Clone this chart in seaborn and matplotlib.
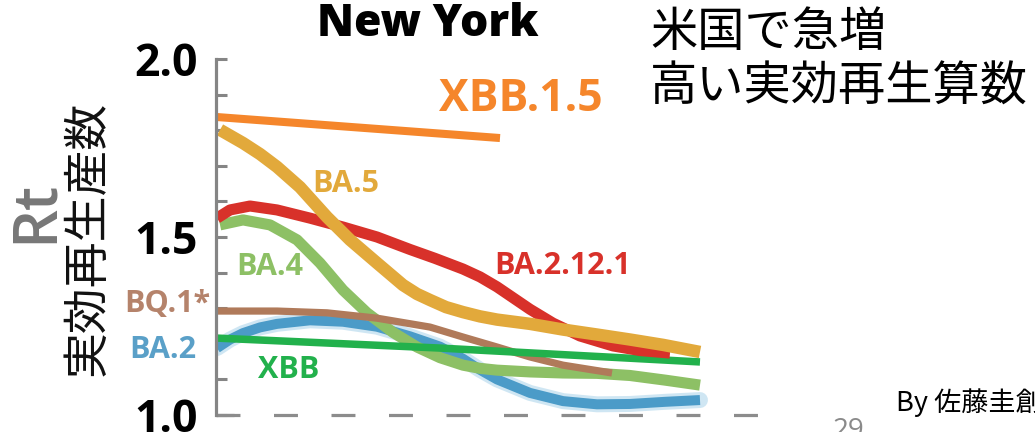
import matplotlib
matplotlib.use("Agg")
import matplotlib.pyplot as plt
import seaborn as sns

# Effective reproduction number (Rt) by variant, New York
xbb15_x = [0.1, 28.4]
xbb15_y = [1.837, 1.778]

ba5_x = [0.4, 2.7, 4.4, 6.1, 8.4, 11.1, 13.4, 16.1, 18.7, 20.1, 21.4, 23.0, 24.7, 26.4, 28.1, 31.4, 34.7, 38.1, 41.4, 44.7, 48.4]
ba5_y = [1.801, 1.764, 1.733, 1.697, 1.640, 1.556, 1.492, 1.427, 1.365, 1.340, 1.323, 1.303, 1.289, 1.277, 1.268, 1.256, 1.240, 1.226, 1.212, 1.197, 1.177]

ba2121_x = [0.1, 1.4, 3.4, 6.1, 9.4, 12.7, 16.1, 19.4, 21.9, 24.7, 26.4, 28.1, 31.4, 33.7, 36.4, 39.7, 42.4, 45.4]
ba2121_y = [1.553, 1.576, 1.587, 1.576, 1.553, 1.528, 1.500, 1.465, 1.440, 1.410, 1.388, 1.360, 1.297, 1.258, 1.222, 1.194, 1.181, 1.174]

ba4_x = [0.4, 2.7, 5.4, 8.1, 10.4, 12.7, 15.1, 17.7, 20.1, 22.4, 24.7, 26.4, 28.1, 31.4, 34.7, 38.1, 41.4, 44.9, 48.4]
ba4_y = [1.534, 1.548, 1.534, 1.492, 1.427, 1.351, 1.287, 1.232, 1.191, 1.161, 1.140, 1.131, 1.126, 1.121, 1.118, 1.117, 1.111, 1.098, 1.084]

bq1_x = [0.1, 6.1, 11.1, 16.1, 21.4, 24.7, 28.1, 31.4, 34.7, 39.6]
bq1_y = [1.292, 1.292, 1.287, 1.272, 1.247, 1.219, 1.191, 1.163, 1.140, 1.118]

ba2_x = [0.1, 1.4, 2.7, 4.4, 6.1, 9.4, 12.7, 16.1, 19.4, 22.4, 24.7, 26.4, 28.1, 31.4, 34.7, 38.1, 41.4, 44.9, 48.4]
ba2_y = [1.188, 1.212, 1.230, 1.246, 1.256, 1.266, 1.262, 1.248, 1.221, 1.192, 1.158, 1.127, 1.100, 1.062, 1.039, 1.030, 1.031, 1.037, 1.042]

xbb_x = [0.1, 22.4, 48.4]
xbb_y = [1.216, 1.188, 1.149]

y_ticks = [1.0, 1.1, 1.2, 1.3, 1.4, 1.5, 1.6, 1.7, 1.8, 1.9, 2.0]
y_tick_labels = ["1.0", "", "", "", "", "1.5", "", "", "", "", "2.0"]

sns.set_style("white")
plt.rcParams["font.family"] = ["Open Sans", "Noto Sans CJK JP", "DejaVu Sans"]

W, H = 1035, 432
fig = plt.figure(figsize=(W / 100, H / 100), dpi=100)
ax = fig.add_axes([216 / W, 1 - 415 / H, 544 / W, 356 / H])

# (x, y, colour, width, label, label x, label y, label colour, label size)
series = [
    (ba2_x, ba2_y, "#4B9BC8", 7.2, "BA.2", -5.3, 1.183, "#5AA0C8", 22),
    (ba4_x, ba4_y, "#8DC065", 8.0, "BA.4", 5.4, 1.416, "#8DC065", 22),
    (bq1_x, bq1_y, "#B07A5A", 5.2, "BQ.1*", -4.9, 1.312, "#B5836B", 22),
    (xbb_x, xbb_y, "#22B14C", 5.4, "XBB", 7.3, 1.126, "#22B14C", 22),
    (ba2121_x, ba2121_y, "#D8312A", 8.0, "BA.2.12.1", 34.7, 1.419, "#D8312A", 22),
    (ba5_x, ba5_y, "#E2A93B", 9.0, "BA.5", 13.0, 1.649, "#E2A93B", 22),
    (xbb15_x, xbb15_y, "#F5862B", 5.8, "XBB.1.5", 30.5, 1.885, "#F5862B", 32),
]

# soft band around BA.2
sns.lineplot(x=ba2_x, y=ba2_y, ax=ax, color="#A9D3EA", linewidth=11.5,
             alpha=0.55, solid_joinstyle="round")

for xs, ys, col, lw, name, lx, ly, lcol, lsize in series:
    sns.lineplot(x=xs, y=ys, ax=ax, color=col, linewidth=lw,
                 solid_capstyle="butt", solid_joinstyle="round")
    ax.text(lx, ly, name, color=lcol, fontsize=lsize, fontweight="bold",
            ha="center", va="center", clip_on=False)

ax.set_xlim(0, 54.4)
ax.set_ylim(1.0, 2.0)

# dashed baseline at Rt = 1
ax.axhline(1.0, color="#8C8C8C", linewidth=2.3, dashes=(7.5, 10.5),
           clip_on=False, zorder=0)
ax.plot([0, 1.8], [1.0, 1.0], color="#8C8C8C", linewidth=2.3,
        clip_on=False, solid_capstyle="butt")

for side in ["top", "right", "bottom"]:
    ax.spines[side].set_visible(False)
ax.spines["left"].set_color("#858585")
ax.spines["left"].set_linewidth(2.3)

ax.set_xticks([])
ax.set_yticks(y_ticks)
ax.set_yticklabels(y_tick_labels)
ax.tick_params(axis="y", direction="in", length=8, width=2.2,
               color="#858585", pad=13, left=True)
for lab in ax.get_yticklabels():
    lab.set_fontsize(32)
    lab.set_fontweight("bold")
    lab.set_color("black")


def px(x, y):
    return x / W, 1 - y / H


fig.text(*px(428, 24), "New York", fontsize=32, fontweight="heavy",
         color="black", ha="center", va="center")

fig.text(*px(36, 212), "Rt", rotation=90, fontsize=44, fontweight="semibold",
         color="#777777", ha="center", va="center")
fig.text(*px(87, 238), "実効再生産数", rotation=90, fontsize=33,
         family=["Noto Sans CJK JP", "DejaVu Sans"], color="#111111",
         ha="center", va="center")

fig.text(*px(650, 33), "米国で急増", fontsize=34,
         family=["Noto Sans CJK JP", "DejaVu Sans"], color="black",
         ha="left", va="center")
fig.text(*px(650, 87), "高い実効再生算数", fontsize=34,
         family=["Noto Sans CJK JP", "DejaVu Sans"], color="black",
         ha="left", va="center")

fig.text(*px(896, 403), "By 佐藤圭創", fontsize=19.5,
         family=["Noto Sans CJK JP", "DejaVu Sans"], color="black",
         ha="left", va="center")
fig.text(*px(833, 417), "29", fontsize=20, color="#8A8A8A",
         ha="left", va="top")

fig.savefig("out.png", dpi=100)
